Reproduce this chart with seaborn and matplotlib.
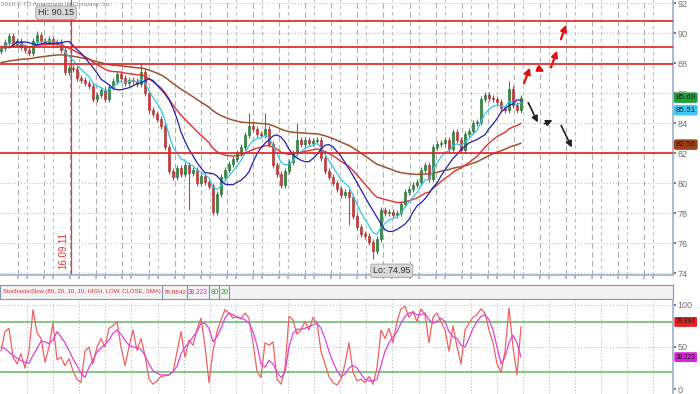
import numpy as np
import pandas as pd
import matplotlib
matplotlib.use('Agg')
import matplotlib.pyplot as plt
import matplotlib.transforms as mtransforms
import seaborn as sns

# --- price data: one close per bar ---
closes = [89.0, 89.4, 89.8, 89.3, 89.5, 89.1, 88.9, 88.7, 89.5, 89.9,
          89.5, 89.4, 89.6, 89.3, 89.4, 88.9, 87.4, 87.7, 87.6, 87.0,
          86.9, 86.7, 86.5, 85.6, 85.9, 86.2, 85.6, 86.4, 86.8, 87.3,
          87.0, 86.7, 86.9, 86.8, 86.6, 87.4, 86.0, 84.9, 84.6, 84.3,
          83.8, 82.4, 80.8, 80.4, 81.0, 80.6, 81.2, 80.7, 80.9, 80.0,
          80.5, 80.1, 79.8, 78.1, 79.3, 80.4, 80.9, 81.3, 81.6, 82.0,
          82.4, 83.2, 83.8, 83.6, 83.3, 83.2, 83.6, 82.6, 81.2, 80.6,
          79.9, 80.8, 81.4, 82.0, 82.9, 82.6, 82.9, 82.7, 82.8, 82.9,
          81.7, 80.8, 80.4, 80.0, 79.6, 79.2, 79.4, 79.1, 77.8, 77.1,
          76.6, 76.5, 76.1, 75.5, 76.3, 78.2, 78.0, 78.1, 77.9, 78.0,
          78.6, 79.4, 79.6, 79.9, 80.1, 80.9, 81.2, 80.3, 82.4, 82.6,
          82.7, 82.9, 82.3, 83.4, 82.9, 82.2, 83.3, 83.5, 84.0, 84.1,
          85.6, 85.9, 85.7, 85.6, 85.4, 85.0, 84.9, 86.3, 85.2, 84.9,
          85.69]
first_open = 88.8
spike_hi = {9: 90.15, 35: 88.0, 62: 84.7, 66: 84.7, 74: 84.0, 87: 79.5, 127: 86.8}
spike_lo = {47: 78.2, 87: 77.2, 93: 74.95}
brown_seed = 88.0

# --- stochastic slow (%K red, %D magenta) ---
stoch_k = [45, 68, 72, 38, 30, 42, 25, 45, 94, 67, 60, 32, 50, 78, 35, 38,
           28, 36, 22, 12, 8, 45, 50, 30, 50, 60, 50, 72, 75, 80, 50, 28,
           50, 70, 46, 60, 40, 12, 6, 10, 15, 16, 17, 20, 44, 68, 38, 58,
           52, 71, 84, 51, 8, 45, 68, 82, 94, 90, 84, 86, 83, 90, 84, 55,
           21, 14, 55, 52, 56, 12, 6, 25, 86, 82, 65, 70, 80, 70, 85, 78,
           45, 30, 15, 8, 5, 12, 30, 55, 20, 10, 12, 8, 15, 6, 25, 70,
           60, 72, 55, 80, 95, 98, 85, 92, 80, 95, 88, 55, 85, 90, 80, 70,
           45, 75, 50, 30, 70, 78, 85, 88, 95, 90, 70, 55, 30, 20, 45, 96,
           50, 17, 74]
stoch_d = [50, 48, 44, 40, 37, 34, 32, 31, 40, 48, 57, 56, 54, 58, 68, 62,
           55, 46, 36, 28, 19, 14, 26, 35, 44, 49, 53, 58, 66, 70, 65, 58,
           52, 50, 49, 47, 40, 30, 22, 19, 17, 17, 17, 21, 27, 42, 50, 55,
           62, 68, 78, 78, 72, 56, 62, 72, 84, 90, 88, 85, 84, 82, 78, 68,
           52, 30, 26, 34, 30, 20, 14, 20, 50, 66, 71, 71, 72, 74, 76, 78,
           72, 60, 45, 32, 22, 15, 18, 25, 28, 25, 18, 12, 10, 10, 12, 28,
           45, 55, 62, 68, 78, 86, 90, 91, 88, 88, 90, 82, 78, 80, 84, 80,
           68, 62, 60, 52, 50, 60, 72, 80, 86, 88, 82, 70, 50, 30, 38, 55,
           64, 55, 38]

# --- levels and drawn scenario arrows ---
resist_levels = [90.8, 89.07, 87.93, 82.0]
red_arrows = [(130.5, 86.47, 132.5, 87.87), (133.5, 87.73, 136.5, 87.33),
              (137.25, 87.53, 139.25, 89.0), (139.75, 89.4, 141.5, 90.73)]
black_arrows = [(131.5, 85.53, 134.5, 83.87), (135.25, 83.87, 138.5, 84.27),
                (139.75, 84.0, 143.0, 82.2)]
price_ticks = [74, 76, 78, 80, 82, 84, 86, 88, 90, 92]

W, H = 700, 394
PX = 4.0  # pixels per bar


def px2i(px):
    return (px - 1) / PX


def fit_width(fig, t, max_px):
    # shrink a text until it fits the pixel width seen in the reference
    r = fig.canvas.get_renderer()
    w = t.get_window_extent(renderer=r).width
    if w > max_px:
        t.set_fontsize(t.get_fontsize() * max_px / w)


sns.set_theme(style='white')
plt.rcParams['font.family'] = ['Liberation Sans', 'DejaVu Sans']

fig = plt.figure(figsize=(W / 100, H / 100), dpi=100)
fig.patch.set_facecolor('white')
ax = fig.add_axes([0, (H - 275) / H, 673 / W, 275 / H])
hdr = fig.add_axes([0, (H - 299) / H, 673 / W, 14 / H])
ax2 = fig.add_axes([0, 0, 673 / W, 94 / H])

spine_c = '#9fb4cc'
xlim = (px2i(0), px2i(673))

# vertical separators
a_lines = [px2i(18 + 26.1 * k) for k in range(25)]
b_lines = [px2i(27 + 26.1 * k) for k in range(25)]
for x in a_lines:
    ax.axvline(x, color='#b0b0b0', lw=0.8, ls=(0, (5, 3)), zorder=0)
for x in b_lines:
    ax.axvline(x, color='#bcbcbc', lw=0.8, ls=(0, (3, 3)), zorder=0)
    ax2.axvline(x, color='#bcbcbc', lw=0.8, ls=(0, (1, 2)), zorder=0)
for y in price_ticks:
    ax.axhline(y, color='#b8b8b8', lw=0.7, ls=(0, (1, 2)), zorder=0)

# candles
idx = np.arange(len(closes))
opens = [first_open] + closes[:-1]
for i, (o, c) in enumerate(zip(opens, closes)):
    hi = max(spike_hi.get(i, 0), max(o, c) + 0.2)
    lo = min(spike_lo.get(i, 999), min(o, c) - 0.2)
    col = '#1e9a3c' if c >= o else '#d83a3a'
    ax.vlines(i, lo, hi, color=col, lw=0.8, zorder=3)
    ax.bar(i, max(abs(c - o), 0.06), bottom=min(o, c), width=0.62,
           color=col, edgecolor='#1d5f2a' if c >= o else '#9c2020', lw=0.4, zorder=4)

# moving averages
s = pd.Series(closes, dtype=float)
cyan = s.ewm(span=6, adjust=False).mean()
blue = s.rolling(8, min_periods=1).mean().shift(2)
red = s.ewm(span=24, adjust=False).mean()
brown = pd.concat([pd.Series([brown_seed]), s]).ewm(span=60, adjust=False).mean().iloc[1:].values
ma = pd.DataFrame({'i': idx, 'cyan': cyan, 'blue': blue, 'red': red, 'brown': brown})
sns.lineplot(data=ma, x='i', y='brown', ax=ax, color='#a0522d', lw=1.1, zorder=5)
sns.lineplot(data=ma, x='i', y='red', ax=ax, color='#e03030', lw=1.0, zorder=5)
sns.lineplot(data=ma, x='i', y='cyan', ax=ax, color='#30c8e8', lw=0.9, zorder=5)
sns.lineplot(data=ma, x='i', y='blue', ax=ax, color='#2020b0', lw=0.9, zorder=6)

for lv in resist_levels:
    ax.axhline(lv, color='#e02020', lw=1.2, zorder=7)

# date marker
mark_x = px2i(71)
ax.axvline(mark_x, color='#e04040', lw=0.9, zorder=2)
ax.text(mark_x - 0.6, 74.3, '16.09.11', rotation=90, color='#e03030', fontsize=7,
        ha='right', va='bottom')

for x0, y0, x1, y1 in red_arrows:
    ax.annotate('', xy=(x1, y1), xytext=(x0, y0),
                arrowprops=dict(arrowstyle='-|>', color='#e01010', lw=1.6, mutation_scale=9))
for x0, y0, x1, y1 in black_arrows:
    ax.annotate('', xy=(x1, y1), xytext=(x0, y0),
                arrowprops=dict(arrowstyle='-|>', color='#202020', lw=1.2, mutation_scale=9))

box = dict(boxstyle='round,pad=0.25', fc='#d9d9d9', ec='#a0a0a0', lw=0.6)
ax.text(px2i(38), 91.35, 'Hi: 90.15', fontsize=6.5, color='#303030', va='center', bbox=box, zorder=9)
ax.text(px2i(373), 74.15, 'Lo: 74.95', fontsize=6.5, color='#303030', va='center', bbox=box, zorder=9)
copy_t = ax.text(px2i(1), 91.95, '2010 \u00a9 TD Ameritrade IP Company, Inc.', fontsize=6,
                 color='#8a8a8a', va='center')

ax.set_xlim(*xlim)
ax.set_ylim(73.87, 92.2)
ax.set_yticks(price_ticks)
ax.yaxis.tick_right()
ax.tick_params(axis='y', labelsize=6.5, colors='#707070', length=2, pad=1)
ax.set_xticks(b_lines + a_lines)
ax.tick_params(axis='x', length=3, colors=spine_c, labelbottom=False, bottom=True)
ax.set_xlabel('')
ax.set_ylabel('')
for side in ['top', 'left']:
    ax.spines[side].set_visible(False)
for side in ['right', 'bottom']:
    ax.spines[side].set_color(spine_c)

ytr = mtransforms.blended_transform_factory(ax.transAxes, ax.transData)
val_boxes = []
for val, txt, fc in [(84.85, '85.51', '#40c8f0'), (85.69, '85.69', '#22a03a'), (82.56, '82.56', '#a0401a')]:
    val_boxes.append(ax.text(1.004, val, txt, transform=ytr, fontsize=6.5, color='#202020', va='center',
                             ha='left', bbox=dict(boxstyle='round,pad=0.22', fc=fc, ec='none'),
                             clip_on=False, zorder=10))

# header strip
hdr.set_xlim(0, 673)
hdr.set_ylim(0, 1)
hdr.set_facecolor('#f2f2f2')
hdr.set_xticks([])
hdr.set_yticks([])
for sp in hdr.spines.values():
    sp.set_color('#7f97b0')
    sp.set_linewidth(0.8)
hdr_t = hdr.text(3, 0.5, 'StochasticSlow (80, 20, 10, 10, HIGH, LOW, CLOSE, SMA)', color='#e03030',
                 fontsize=6.5, va='center')
cells = [(162, 187, '78.8842', '#e03030'), (187, 209, '38.223', '#d030d0'),
         (209, 219, '80', '#30a030'), (219, 229, '20', '#30a030')]
cell_t = []
for x0, x1, txt, c in cells:
    hdr.axvline(x0, color='#7f97b0', lw=0.8)
    hdr.axvline(x1, color='#7f97b0', lw=0.8)
    cell_t.append((hdr.text(x0 + 1.2, 0.5, txt, color=c, fontsize=6.5, va='center'), x1 - x0 - 2))

# stochastic panel
st = pd.DataFrame({'i': idx, 'k': stoch_k, 'd': stoch_d})
for y in [50, 100]:
    ax2.axhline(y, color='#b8b8b8', lw=0.7, ls=(0, (1, 2)), zorder=0)
ax2.axhline(80, color='#60b860', lw=1.1, zorder=1)
ax2.axhline(20, color='#60b860', lw=1.1, zorder=1)
sns.lineplot(data=st, x='i', y='k', ax=ax2, color='#f06060', lw=0.9, zorder=3)
sns.lineplot(data=st, x='i', y='d', ax=ax2, color='#e040e0', lw=0.9, zorder=4)
ax2.set_xlim(*xlim)
ax2.set_ylim(-5.5, 105.4)
ax2.set_yticks([0, 50, 100])
ax2.yaxis.tick_right()
ax2.tick_params(axis='y', labelsize=6.5, colors='#707070', length=2, pad=1)
ax2.set_xticks([])
ax2.set_xlabel('')
ax2.set_ylabel('')
for side in ['top', 'left', 'bottom']:
    ax2.spines[side].set_visible(False)
ax2.spines['right'].set_color(spine_c)
ytr2 = mtransforms.blended_transform_factory(ax2.transAxes, ax2.transData)
for val, txt, fc in [(79.5, '78.884', '#e82020'), (stoch_d[-1], '38.223', '#e020e0')]:
    val_boxes.append(ax2.text(1.004, val, txt, transform=ytr2, fontsize=6.5, color='#202020', va='center',
                              ha='left', bbox=dict(boxstyle='round,pad=0.22', fc=fc, ec='none'),
                              clip_on=False, zorder=10))

# fit the narrow reference texts into their pixel widths
fit_width(fig, hdr_t, 158)
fit_width(fig, copy_t, 112)
for t, wpx in cell_t:
    fit_width(fig, t, wpx)
for t in val_boxes:
    fit_width(fig, t, 20)

fig.savefig('out.png', dpi=100)
